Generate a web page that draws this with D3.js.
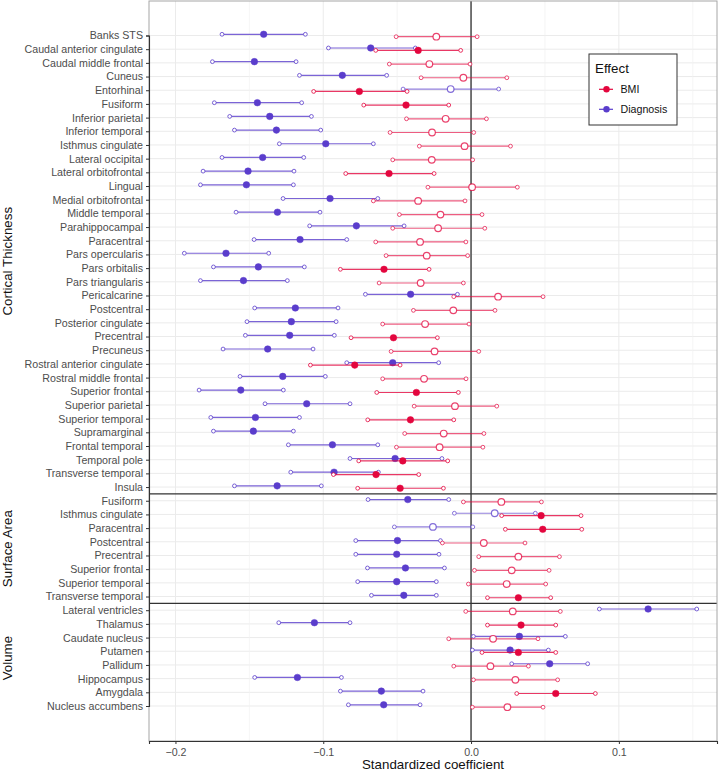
<!DOCTYPE html>
<html><head><meta charset="utf-8">
<script src="https://cdn.jsdelivr.net/npm/d3@7"></script>
<style>body{margin:0;background:#fff}svg{display:block;font-family:"Liberation Sans",Arial,sans-serif}</style>
</head><body><svg id="c" width="719" height="771"></svg>
<script>
const ctRegions = ["Banks STS","Caudal anterior cingulate","Caudal middle frontal","Cuneus","Entorhinal","Fusiform","Inferior parietal","Inferior temporal","Isthmus cingulate","Lateral occipital","Lateral orbitofrontal","Lingual","Medial orbitofrontal","Middle temporal","Parahippocampal","Paracentral","Pars opercularis","Pars orbitalis","Pars triangularis","Pericalcarine","Postcentral","Posterior cingulate","Precentral","Precuneus","Rostral anterior cingulate","Rostral middle frontal","Superior frontal","Superior parietal","Superior temporal","Supramarginal","Frontal temporal","Temporal pole","Transverse temporal","Insula"];
const saRegions = ["Fusiform","Isthmus cingulate","Paracentral","Postcentral","Precentral","Superior frontal","Superior temporal","Transverse temporal"];
const volRegions = ["Lateral ventricles","Thalamus","Caudate nucleus","Putamen","Pallidum","Hippocampus","Amygdala","Nucleus accumbens"];
const groupNames = ["Cortical Thickness","Surface Area","Volume"];
const effects = ["BMI","Diagnosis"];
const xTicks = [-0.2,-0.1,0.0,0.1];

const dxEst = [-0.1403,-0.0679,-0.1466,-0.0871,-0.0138,-0.1446,-0.1362,-0.1317,-0.0983,-0.1410,-0.1509,-0.1520,-0.0954,-0.1310,-0.0776,-0.1157,-0.1658,-0.1439,-0.1540,-0.0409,-0.1189,-0.1216,-0.1227,-0.1376,-0.0530,-0.1274,-0.1558,-0.1112,-0.1459,-0.1473,-0.0938,-0.0514,-0.0927,-0.1312,
  -0.0428,0.0160,-0.0258,-0.0498,-0.0503,-0.0444,-0.0503,-0.0455,
  0.1198,-0.1060,0.0327,0.0264,0.0532,-0.1175,-0.0607,-0.0591];
const dxLo = [-0.1685,-0.0965,-0.1750,-0.1161,-0.0460,-0.1737,-0.1633,-0.1601,-0.1297,-0.1685,-0.1813,-0.1831,-0.1272,-0.1590,-0.1092,-0.1468,-0.1940,-0.1743,-0.1831,-0.0715,-0.1464,-0.1516,-0.1527,-0.1678,-0.0841,-0.1563,-0.1840,-0.1394,-0.1761,-0.1743,-0.1236,-0.0819,-0.1220,-0.1601,
  -0.0697,-0.0113,-0.0519,-0.0780,-0.0780,-0.0701,-0.0767,-0.0674,
  0.0868,-0.1301,0.0016,0.0009,0.0275,-0.1464,-0.0884,-0.0830];
const dxHi = [-0.1121,-0.0377,-0.1184,-0.0571,0.0187,-0.1146,-0.1080,-0.1017,-0.0661,-0.1132,-0.1198,-0.1202,-0.0631,-0.1022,-0.0453,-0.0841,-0.1369,-0.1128,-0.1243,-0.0092,-0.0900,-0.0913,-0.0925,-0.1069,-0.0219,-0.0986,-0.1270,-0.0819,-0.1161,-0.1202,-0.0631,-0.0197,-0.0627,-0.1013,
  -0.0151,0.0435,0.0012,-0.0207,-0.0217,-0.0180,-0.0235,-0.0235,
  0.1527,-0.0819,0.0638,0.0523,0.0789,-0.0877,-0.0325,-0.0345];
const dxSig = [1,1,1,1,0,1,1,1,1,1,1,1,1,1,1,1,1,1,1,1,1,1,1,1,1,1,1,1,1,1,1,1,1,1,
  1,0,0,1,1,1,1,1,
  1,1,1,1,1,1,1,1];

const bmiEst = [-0.0235,-0.0358,-0.0282,-0.0052,-0.0756,-0.0440,-0.0172,-0.0264,-0.0044,-0.0266,-0.0555,0.0007,-0.0358,-0.0207,-0.0223,-0.0345,-0.0300,-0.0589,-0.0341,0.0183,-0.0120,-0.0311,-0.0525,-0.0247,-0.0787,-0.0318,-0.0370,-0.0109,-0.0410,-0.0185,-0.0213,-0.0462,-0.0643,-0.0480,
  0.0205,0.0474,0.0485,0.0086,0.0320,0.0275,0.0241,0.0320,
  0.0282,0.0338,0.0149,0.0320,0.0131,0.0300,0.0573,0.0246];
const bmiLo = [-0.0507,-0.0645,-0.0553,-0.0338,-0.1065,-0.0726,-0.0437,-0.0548,-0.0350,-0.0530,-0.0848,-0.0292,-0.0661,-0.0485,-0.0530,-0.0645,-0.0575,-0.0884,-0.0622,-0.0117,-0.0390,-0.0598,-0.0812,-0.0541,-0.1087,-0.0598,-0.0638,-0.0385,-0.0699,-0.0449,-0.0505,-0.0760,-0.0931,-0.0767,
  -0.0052,0.0207,0.0232,-0.0194,0.0052,0.0023,-0.0018,0.0111,
  -0.0036,0.0111,-0.0151,0.0074,-0.0117,0.0016,0.0309,0.0009];
const bmiHi = [0.0041,-0.0070,-0.0007,0.0242,-0.0433,-0.0151,0.0104,0.0018,0.0267,0.0011,-0.0250,0.0313,-0.0041,0.0074,0.0093,-0.0035,-0.0023,-0.0284,-0.0052,0.0487,0.0162,-0.0014,-0.0228,0.0052,-0.0480,-0.0034,-0.0086,0.0174,-0.0117,0.0087,0.0080,-0.0158,-0.0354,-0.0187,
  0.0476,0.0744,0.0749,0.0365,0.0598,0.0528,0.0505,0.0539,
  0.0604,0.0573,0.0453,0.0573,0.0388,0.0586,0.0841,0.0487];
const bmiSig = [0,1,0,0,1,1,0,0,0,0,1,0,0,0,0,0,0,1,0,0,0,0,1,0,1,0,1,0,1,0,0,1,1,1,
  0,1,1,0,0,0,0,1,
  0,1,0,1,0,0,1,0];

const colors = {BMI:"#e3063e", Diagnosis:"#5a3dcc"};

const svg = d3.select("#c");
const W = 719, H = 771;
const P = {l:149, r:717, t:1, b:741};
const x = d3.scaleLinear().domain([-0.2179, 0.1664]).range([P.l, P.r]);
const labels = ctRegions.concat(saRegions, volRegions);
const groupSizes = [ctRegions.length, saRegions.length, volRegions.length];
const n = labels.length;
const y = d3.scalePoint().domain(d3.range(n)).range([35.5, 706]);
const step = y.step();

// gridlines
const g = svg.append("g");
g.append("rect").attr("x",P.l).attr("y",P.t).attr("width",P.r-P.l).attr("height",P.b-P.t).attr("fill","#fff");
g.selectAll(".hg").data(d3.range(n)).join("line")
  .attr("x1",P.l).attr("x2",P.r).attr("y1",d=>y(d)).attr("y2",d=>y(d))
  .attr("stroke","#ebebeb").attr("stroke-width",1);
const minor = [-0.15,-0.05,0.05,0.15];
g.selectAll(".mg").data(minor).join("line")
  .attr("x1",d=>x(d)).attr("x2",d=>x(d)).attr("y1",P.t).attr("y2",P.b)
  .attr("stroke","#f0f0f0").attr("stroke-width",0.7);
g.selectAll(".vg").data(xTicks).join("line")
  .attr("x1",d=>x(d)).attr("x2",d=>x(d)).attr("y1",P.t).attr("y2",P.b)
  .attr("stroke","#ebebeb").attr("stroke-width",1);

// zero line
g.append("line").attr("x1",x(0)).attr("x2",x(0)).attr("y1",P.t).attr("y2",P.b)
  .attr("stroke","#5e5e5e").attr("stroke-width",1.7);

// group separators
let cum = 0;
const seps = [];
groupSizes.slice(0,-1).forEach(s=>{cum+=s; seps.push(cum);});
g.selectAll(".sep").data(seps).join("line")
  .attr("x1",P.l).attr("x2",P.r).attr("y1",d=>y(d)-step/2).attr("y2",d=>y(d)-step/2)
  .attr("stroke","#333").attr("stroke-width",1.1);

// data
function rows(eff, est, lo, hi, sig, off){
  return d3.range(n).map(i=>({eff, i, est:est[i], lo:lo[i], hi:hi[i], sig:sig[i], off}));
}
const series = [
  rows("Diagnosis", dxEst, dxLo, dxHi, dxSig, -1.2),
  rows("BMI", bmiEst, bmiLo, bmiHi, bmiSig, 1.2)
];
series.forEach(data=>{
  const sg = svg.append("g");
  const c = colors[data[0].eff];
  sg.selectAll("line").data(data).join("line")
    .attr("x1",d=>x(d.lo)).attr("x2",d=>x(d.hi))
    .attr("y1",d=>y(d.i)+d.off).attr("y2",d=>y(d.i)+d.off)
    .attr("stroke",c).attr("stroke-width",1.2).attr("stroke-opacity",d=>d.sig?0.8:0.65);
  const ends = data.flatMap(d=>[{...d,v:d.lo},{...d,v:d.hi}]);
  sg.selectAll(".e").data(ends).join("circle")
    .attr("cx",d=>x(d.v)).attr("cy",d=>y(d.i)+d.off).attr("r",1.9)
    .attr("fill","#fff").attr("stroke",c).attr("stroke-width",1).attr("stroke-opacity",d=>d.sig?0.8:0.7);
  sg.selectAll(".p").data(data).join("circle")
    .attr("cx",d=>x(d.est)).attr("cy",d=>y(d.i)+d.off).attr("r",3.3)
    .attr("fill",d=>d.sig?c:"#fff").attr("fill-opacity",1)
    .attr("stroke",c).attr("stroke-width",d=>d.sig?0.5:1.2).attr("stroke-opacity",d=>d.sig?1:0.75);
});

// border
svg.append("rect").attr("x",P.l).attr("y",P.t).attr("width",P.r-P.l).attr("height",P.b-P.t)
  .attr("fill","none").attr("stroke","#a6a6a6").attr("stroke-width",1);

// y axis
const ya = svg.append("g").attr("transform",`translate(${P.l},0)`)
  .call(d3.axisLeft(y).tickSize(3).tickPadding(3).tickFormat(i=>labels[i]));
ya.select(".domain").attr("stroke","#333").attr("stroke-width",1.1);
ya.selectAll(".tick line").attr("stroke","#333");
ya.selectAll(".tick text").attr("fill","#4d4d4d").style("font-size","10.67px");

// x axis
const xa = svg.append("g").attr("transform",`translate(0,${P.b})`)
  .call(d3.axisBottom(x).tickValues(xTicks).tickSize(3).tickPadding(4).tickFormat(d3.format(".1f")));
xa.select(".domain").attr("stroke","#333").attr("stroke-width",1.1);
xa.selectAll(".tick line").attr("stroke","#333");
xa.selectAll(".tick text").attr("fill","#4d4d4d").style("font-size","10.67px");

svg.append("text").attr("x",(P.l+P.r)/2).attr("y",769).attr("text-anchor","middle")
  .style("font-size","13.33px").attr("fill","#111").text("Standardized coefficient");

// group labels
let start = 0;
groupNames.forEach((name,k)=>{
  const a = start, b = start + groupSizes[k]-1;
  const cy = (y(a)+y(b))/2;
  svg.append("text").attr("transform",`translate(12,${cy}) rotate(-90)`)
    .attr("text-anchor","middle").style("font-size","13.33px").attr("fill","#111").text(name);
  start += groupSizes[k];
});

// legend
const lg = svg.append("g").attr("transform","translate(589,54)");
lg.append("rect").attr("width",88).attr("height",71).attr("fill","#fff").attr("stroke","#333").attr("stroke-width",1);
lg.append("text").attr("x",6).attr("y",19).style("font-size","13.33px").attr("fill","#111").text("Effect");
effects.forEach((e,k)=>{
  const yy = 35.3 + k*20;
  lg.append("line").attr("x1",10).attr("x2",24).attr("y1",yy).attr("y2",yy).attr("stroke",colors[e]).attr("stroke-width",1.2);
  lg.append("circle").attr("cx",17.5).attr("cy",yy).attr("r",3.2).attr("fill",colors[e]);
  lg.append("text").attr("x",31.5).attr("y",yy).attr("dy","0.35em").style("font-size","10.67px").attr("fill","#111").text(e);
});
</script></body></html>
